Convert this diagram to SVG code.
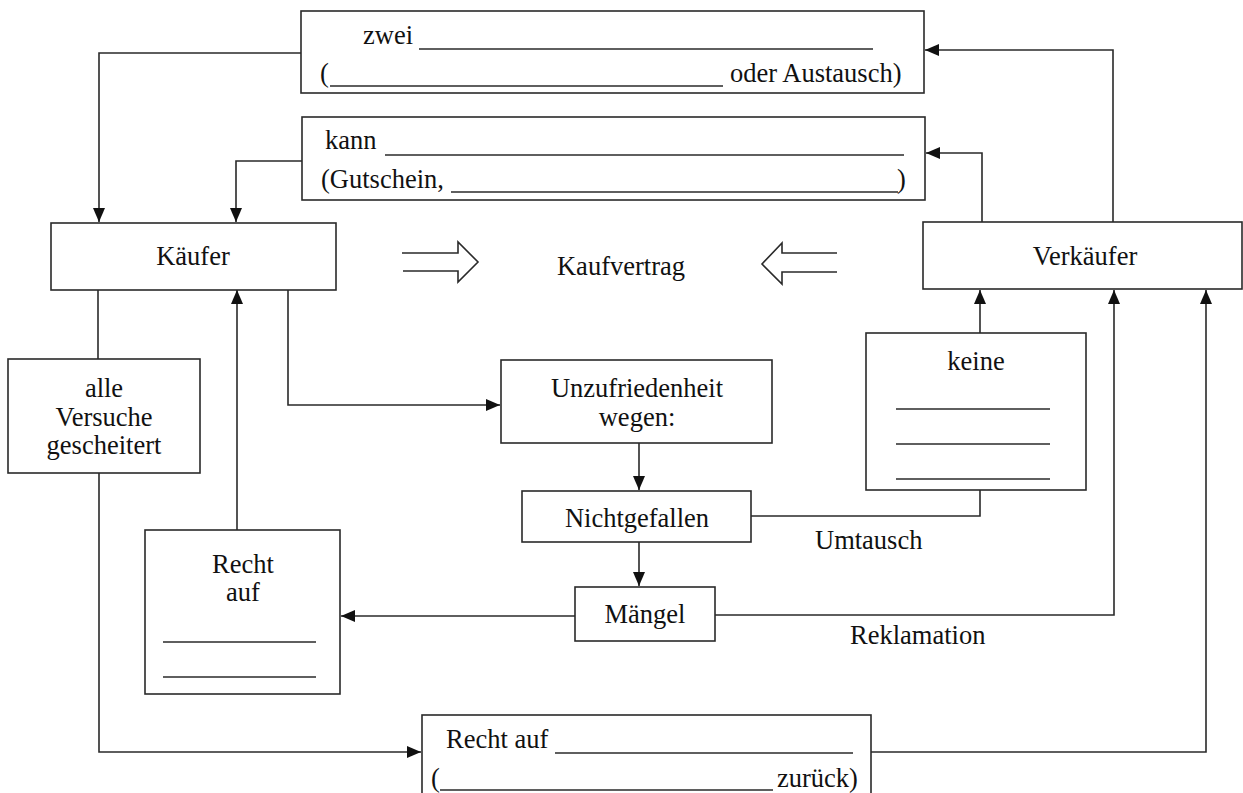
<svg xmlns="http://www.w3.org/2000/svg" width="1243" height="793" viewBox="0 0 1243 793">
<style>
.b{fill:#fff;stroke:#2a2a2a;stroke-width:1.6}
.l{fill:none;stroke:#2a2a2a;stroke-width:1.6}
.t{font-family:"Liberation Serif","Times New Roman",serif;font-size:26.5px;fill:#111}
.c{text-anchor:middle}
</style>
<defs>
<marker id="ah" viewBox="0 0 14 12" refX="14" refY="6" markerWidth="14" markerHeight="12" markerUnits="userSpaceOnUse" orient="auto">
<path d="M0,0 L14,6 L0,12 Z" fill="#111"/>
</marker>
</defs>
<rect width="1243" height="793" fill="#fff"/>
<g id="connectors">
<path class="l" d="M301,53 H99 V222" marker-end="url(#ah)"/>
<path class="l" d="M302,161 H236 V222" marker-end="url(#ah)"/>
<path class="l" d="M982,222 V153 H926" marker-end="url(#ah)"/>
<path class="l" d="M1113,222 V50 H925" marker-end="url(#ah)"/>
<path class="l" d="M98,290 V359"/>
<path class="l" d="M99,473 V752 H421" marker-end="url(#ah)"/>
<path class="l" d="M237,530 V290" marker-end="url(#ah)"/>
<path class="l" d="M288,290 V405 H500" marker-end="url(#ah)"/>
<path class="l" d="M639,443 V490" marker-end="url(#ah)"/>
<path class="l" d="M639,542 V586" marker-end="url(#ah)"/>
<path class="l" d="M575,616 H341" marker-end="url(#ah)"/>
<path class="l" d="M980,333 V290" marker-end="url(#ah)"/>
<path class="l" d="M980,490 V516 H751"/>
<path class="l" d="M715,615 H1114 V290" marker-end="url(#ah)"/>
<path class="l" d="M871,752 H1206 V290" marker-end="url(#ah)"/>
<path class="l" d="M402,253 H458 V242 L478,262 L458,282 V271 H403"/>
<path class="l" d="M837,253 H782 V243 L762,264 L782,284 V272 H837"/>
<text class="t" x="815" y="549">Umtausch</text>
<text class="t" x="850" y="644">Reklamation</text>
<text class="t c" x="621" y="275">Kaufvertrag</text>
</g>
<g id="box-zwei">
<rect class="b" x="301" y="11" width="623" height="82"/>
<text class="t" x="363" y="44">zwei</text>
<line class="l" x1="419" y1="49" x2="873" y2="49"/>
<text class="t" x="320" y="82">(</text>
<line class="l" x1="330" y1="86" x2="723" y2="86"/>
<text class="t" x="730" y="82">oder Austausch)</text>
</g>
<g id="box-kann">
<rect class="b" x="302" y="117" width="623" height="83"/>
<text class="t" x="325" y="149">kann</text>
<line class="l" x1="385" y1="155" x2="904" y2="155"/>
<text class="t" x="321" y="188">(Gutschein,</text>
<line class="l" x1="451" y1="192" x2="898" y2="192"/>
<text class="t" x="897" y="188">)</text>
</g>
<g id="kaeufer">
<rect class="b" x="51" y="223" width="285" height="67"/>
<text class="t c" x="193" y="265">Käufer</text>
</g>
<g id="verkaeufer">
<rect class="b" x="923" y="222" width="319" height="67"/>
<text class="t c" x="1085" y="265">Verkäufer</text>
</g>
<g id="alle">
<rect class="b" x="8" y="359" width="192" height="114"/>
<text class="t c" x="104" y="397">alle</text>
<text class="t c" x="104" y="426">Versuche</text>
<text class="t c" x="104" y="454">gescheitert</text>
</g>
<g id="recht-links">
<rect class="b" x="145" y="530" width="195" height="164"/>
<text class="t c" x="243" y="573">Recht</text>
<text class="t c" x="243" y="601">auf</text>
<line class="l" x1="163" y1="642" x2="316" y2="642"/>
<line class="l" x1="163" y1="677" x2="316" y2="677"/>
</g>
<g id="unzufriedenheit">
<rect class="b" x="501" y="360" width="271" height="83"/>
<text class="t c" x="637" y="397">Unzufriedenheit</text>
<text class="t c" x="637" y="426">wegen:</text>
</g>
<g id="nichtgefallen">
<rect class="b" x="522" y="491" width="229" height="51"/>
<text class="t c" x="637" y="527">Nichtgefallen</text>
</g>
<g id="maengel">
<rect class="b" x="575" y="587" width="140" height="54"/>
<text class="t c" x="645" y="623">Mängel</text>
</g>
<g id="keine">
<rect class="b" x="866" y="333" width="220" height="157"/>
<text class="t c" x="976" y="370">keine</text>
<line class="l" x1="896" y1="409" x2="1050" y2="409"/>
<line class="l" x1="896" y1="444" x2="1050" y2="444"/>
<line class="l" x1="896" y1="479" x2="1050" y2="479"/>
</g>
<g id="recht-unten">
<rect class="b" x="422" y="715" width="449" height="90"/>
<text class="t" x="446" y="748">Recht auf</text>
<line class="l" x1="555" y1="753" x2="853" y2="753"/>
<text class="t" x="431" y="787">(</text>
<line class="l" x1="440" y1="790" x2="773" y2="790"/>
<text class="t" x="777" y="787">zurück)</text>
</g>
</svg>
